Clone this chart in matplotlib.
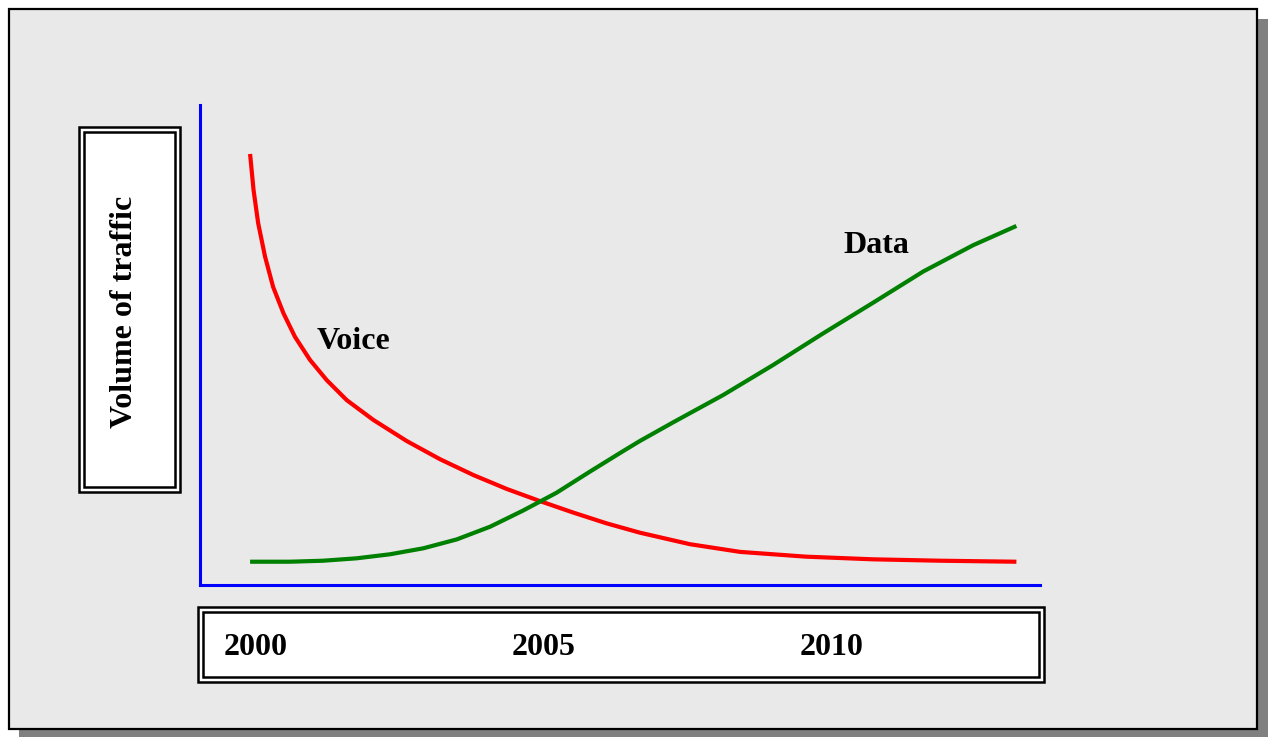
import matplotlib
matplotlib.use('Agg')
import matplotlib.pyplot as plt
import matplotlib.patches as patches
import matplotlib.transforms as mtransforms

# curve data (year, volume in % of axis height)
voice_year = [2000.0, 2000.06, 2000.14, 2000.26, 2000.40, 2000.58, 2000.78, 2001.04,
              2001.33, 2001.68, 2002.14, 2002.72, 2003.30, 2003.88, 2004.46, 2005.03,
              2005.61, 2006.19, 2006.77, 2007.64, 2008.51, 2009.66, 2010.82, 2011.98, 2013.31]
voice_vol = [89.8, 82.3, 75.4, 68.4, 62.1, 56.6, 51.7, 46.9,
             42.7, 38.5, 34.4, 30.0, 26.2, 22.9, 20.0, 17.5,
             15.1, 12.85, 10.9, 8.5, 6.9, 5.9, 5.35, 5.06, 4.85]

data_year = [2000.0, 2000.69, 2001.27, 2001.85, 2002.43, 2003.01, 2003.59, 2004.17,
             2004.74, 2005.32, 2005.90, 2006.48, 2006.77, 2007.35, 2008.22, 2009.08,
             2009.95, 2010.82, 2011.69, 2012.56, 2013.31]
data_vol = [4.85, 4.85, 5.06, 5.56, 6.4, 7.65, 9.5, 12.15,
            15.5, 19.2, 23.6, 27.9, 30.0, 33.9, 39.6, 45.8,
            52.4, 58.8, 65.3, 70.8, 74.8]

tick_years = [2000, 2005, 2010]
tick_labels = ['2000', '2005', '2010']

W, H = 1268, 737
fig = plt.figure(figsize=(W / 100, H / 100), dpi=100)
fig.patch.set_facecolor('white')

# background axes in pixel coordinates for the frame and boxes
bg = fig.add_axes([0, 0, 1, 1])
bg.set_xlim(0, W)
bg.set_ylim(H, 0)
bg.axis('off')

# drop shadow and panel
bg.add_patch(patches.Rectangle((19, 19), 1249, 718, facecolor='#808080', edgecolor='none'))
bg.add_patch(patches.Rectangle((9, 9), 1248, 720, facecolor='#E9E9E9', edgecolor='black', lw=1.6))


def double_box(x0, y0, x1, y1, gap=5):
    bg.add_patch(patches.Rectangle((x0, y0), x1 - x0, y1 - y0, facecolor='white',
                                   edgecolor='black', lw=1.8))
    bg.add_patch(patches.Rectangle((x0 + gap, y0 + gap), x1 - x0 - 2 * gap, y1 - y0 - 2 * gap,
                                   facecolor='white', edgecolor='black', lw=1.8))


double_box(78.5, 127, 179.5, 492)
double_box(198, 606.5, 1043.5, 681.5)

bg.text(125, 312, 'Volume of traffic', rotation=90, ha='center', va='center',
        fontsize=23, fontweight='bold', family='Liberation Serif')

# data axes
ax = fig.add_axes([200 / W, 1 - 585 / H, 840 / W, 480 / H])
ax.patch.set_alpha(0)
ax.set_xlim(1999.13, 2013.72)
ax.set_ylim(0, 100)
for s in ['top', 'right']:
    ax.spines[s].set_visible(False)
for s in ['left', 'bottom']:
    ax.spines[s].set_color('blue')
    ax.spines[s].set_linewidth(2.2)
ax.set_xticks([])
ax.set_yticks([])

ax.plot(voice_year, voice_vol, color='red', lw=3.0, solid_capstyle='butt', solid_joinstyle='round')
ax.plot(data_year, data_vol, color='green', lw=3.0, solid_capstyle='butt', solid_joinstyle='round')

ax.text(2001.16, 49.2, 'Voice', ha='left', va='baseline', fontsize=23,
        fontweight='bold', family='Liberation Serif')
ax.text(2010.31, 69.2, 'Data', ha='left', va='baseline', fontsize=23,
        fontweight='bold', family='Liberation Serif')

trans = mtransforms.blended_transform_factory(ax.transData, bg.transData)
for yr, lab in zip(tick_years, tick_labels):
    ax.text(yr + 0.1, 655, lab, transform=trans, ha='center', va='baseline', fontsize=23,
            fontweight='bold', family='Liberation Serif', clip_on=False)

fig.savefig('out.png', dpi=100)
